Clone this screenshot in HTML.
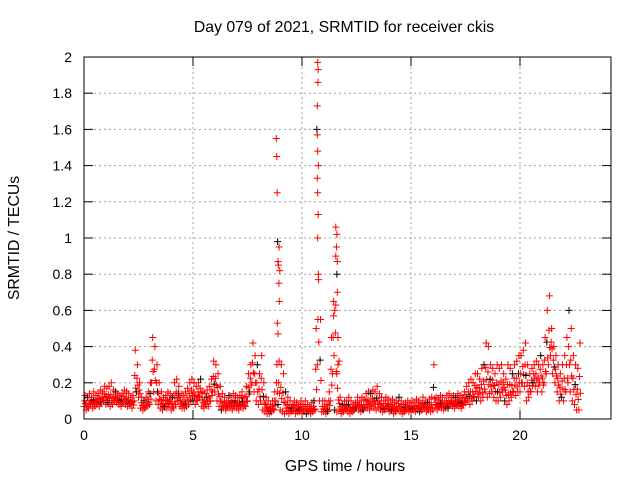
<!DOCTYPE html>
<html><head><meta charset="utf-8"><style>
body{margin:0;background:#fff;}
svg{display:block;font-family:"Liberation Sans",sans-serif;font-size:14px;}
.t{font-size:15.8px;}
</style></head><body>
<svg id="chart" width="640" height="480">
<text class="t" x="344" y="32" text-anchor="middle">Day 079 of 2021, SRMTID for receiver ckis</text>
<text class="t" x="345" y="471" text-anchor="middle">GPS time / hours</text>
<text class="t" transform="translate(19,238) rotate(-90)" text-anchor="middle">SRMTID / TECUs</text>
<g id="grid"></g><g id="marks"></g>
<rect x="84" y="57" width="527" height="362" fill="none" stroke="#000"/>
</svg>
<script>
const xTicks=[0,5,10,15,20];
const yTicks=[0,0.2,0.4,0.6,0.8,1,1.2,1.4,1.6,1.8,2];
const yTickLabels=["0","0.2","0.4","0.6","0.8","1","1.2","1.4","1.6","1.8","2"];
const tStart=0, tStep=0.1;
const lowVals=[.07,.05,.06,.08,.06,.07,.08,.07,.09,.1,.08,.09,.07,.08,.1,.09,.08,.07,.09,.08,.07,.08,.06,.1,.15,.12,.06,.05,.06,.07,.08,.2,.15,.1,.08,.06,.05,.07,.06,.08,.05,.06,.08,.1,.07,.06,.06,.07,.08,.1,.1,.08,.1,.12,.07,.06,.08,.07,.1,.15,.15,.1,.07,.05,.06,.05,.07,.06,.05,.07,.06,.05,.08,.06,.07,.1,.15,.2,.15,.1,.08,.1,.05,.04,.03,.03,.04,.05,.1,.08,.05,.04,.03,.04,.03,.04,.05,.03,.04,.04,.03,.04,.03,.04,.03,.04,.05,.3,.1,.04,.04,.03,.05,.1,.25,.05,.04,.05,.03,.04,.05,.04,.03,.04,.05,.06,.05,.04,.05,.06,.06,.05,.07,.06,.05,.06,.05,.04,.05,.06,.04,.05,.03,.04,.05,.04,.03,.04,.05,.04,.04,.05,.04,.05,.04,.05,.06,.04,.05,.04,.05,.06,.05,.07,.06,.05,.07,.06,.08,.07,.06,.08,.07,.06,.08,.09,.1,.08,.1,.12,.1,.12,.1,.12,.15,.12,.14,.15,.12,.1,.1,.12,.15,.1,.08,.1,.12,.15,.13,.15,.15,.2,.18,.1,.12,.15,.2,.18,.15,.2,.15,.2,.25,.3,.35,.25,.2,.15,.1,.12,.1,.15,.2,.15,.1,.08,.05,.05];
const highVals=[.13,.12,.14,.12,.15,.13,.14,.16,.15,.18,.17,.18,.2,.16,.15,.14,.13,.14,.16,.15,.14,.12,.13,.38,.3,.2,.12,.1,.12,.15,.2,.45,.4,.3,.2,.15,.12,.13,.15,.14,.12,.2,.22,.18,.14,.13,.15,.17,.2,.22,.2,.18,.2,.22,.15,.14,.16,.18,.22,.32,.3,.25,.18,.14,.12,.1,.13,.12,.14,.13,.12,.13,.15,.12,.18,.25,.3,.42,.35,.3,.25,.35,.2,.12,.1,.08,.1,.15,.3,.32,.3,.25,.15,.12,.1,.08,.1,.09,.08,.1,.08,.1,.08,.07,.09,.1,.5,.8,.55,.1,.1,.08,.15,.45,.65,.9,.3,.12,.08,.1,.1,.12,.1,.08,.09,.12,.1,.12,.11,.14,.15,.14,.16,.15,.18,.14,.12,.1,.12,.11,.1,.11,.09,.1,.12,.1,.08,.09,.1,.09,.1,.09,.11,.1,.09,.12,.1,.09,.11,.12,.3,.12,.11,.13,.12,.1,.13,.14,.12,.13,.12,.14,.13,.12,.15,.18,.2,.22,.2,.25,.25,.22,.28,.3,.42,.4,.3,.28,.25,.3,.28,.3,.25,.22,.3,.28,.25,.3,.32,.35,.35,.38,.42,.3,.25,.28,.3,.32,.3,.35,.3,.45,.6,.68,.5,.4,.35,.3,.25,.3,.35,.45,.6,.5,.35,.3,.28,.42];
const spikeTimes=[8.82,8.84,8.86,8.88,8.9,8.92,8.94,8.96,8.87,8.9,8.95,8.98,10.72,10.74,10.73,10.7,10.68,10.7,10.72,10.75,10.7,10.72,10.74,10.72,10.76,11.55,11.6,11.58,11.62,11.6,11.55,11.5,11.45,11.62,11.65,11.7,11.6];
const spikeVals=[1.55,1.45,1.25,0.98,0.87,0.85,0.75,0.65,0.53,0.47,0.95,0.82,1.97,1.93,1.86,1.73,1.6,1.57,1.48,1.4,1.33,1.25,1.13,1.0,0.77,1.06,1.02,0.95,0.87,0.8,0.63,0.6,0.57,0.7,0.45,0.32,0.25];
const X0=84,XPX=21.8,Y0=419,YPX=181;
const sx=t=>X0+t*XPX, sy=v=>Y0-v*YPX;
const NS="http://www.w3.org/2000/svg";
const grid=document.getElementById('grid'), marks=document.getElementById('marks');
function mk(tag,attrs,parent){const e=document.createElementNS(NS,tag);for(const k in attrs)e.setAttribute(k,attrs[k]);parent.appendChild(e);return e;}
xTicks.forEach(t=>{
 const x=sx(t);
 if(t>0){const g=mk('line',{x1:x,x2:x,y1:57,y2:419,stroke:'#a0a0a0','stroke-dasharray':'2,3'},grid);
 
 }
 mk('line',{x1:x,x2:x,y1:419,y2:410,stroke:'#000'},grid);
 mk('line',{x1:x,x2:x,y1:57,y2:66,stroke:'#000'},grid);
 const l=mk('text',{x:x,y:440,'text-anchor':'middle'},grid);l.textContent=t;
 
 
});
yTicks.forEach((v,i)=>{
 const y=sy(v);
 if(v>0&&v<2){const g=mk('line',{x1:84,x2:611,y1:y,y2:y,stroke:'#a0a0a0','stroke-dasharray':'2,3'},grid);
 
 }
 mk('line',{x1:84,x2:93,y1:y,y2:y,stroke:'#000'},grid);
 mk('line',{x1:611,x2:602,y1:y,y2:y,stroke:'#000'},grid);
 const l=mk('text',{x:72,y:y+5,'text-anchor':'end'},grid);l.textContent=yTickLabels[i];
 
 
});
let n=0;
function plus(t,v){
 const x=sx(t),y=sy(v);const c=(n++%13===5)?'#000':'#f00';
 const p=mk('path',{d:`M${x-3.5} ${y}H${x+3.5}M${x} ${y-3.5}V${y+3.5}`,stroke:c,'stroke-width':1},marks);
 
 
}
lowVals.forEach((v,i)=>{
 const t=tStart+i*tStep;
 plus(t,v);plus(t+0.05,highVals[i]);plus(t+0.03,(v+highVals[i])/2);plus(t+0.07,v+(highVals[i]-v)*0.25);
});
spikeTimes.forEach((t,i)=>plus(t,spikeVals[i]));
</script>
</body></html>
